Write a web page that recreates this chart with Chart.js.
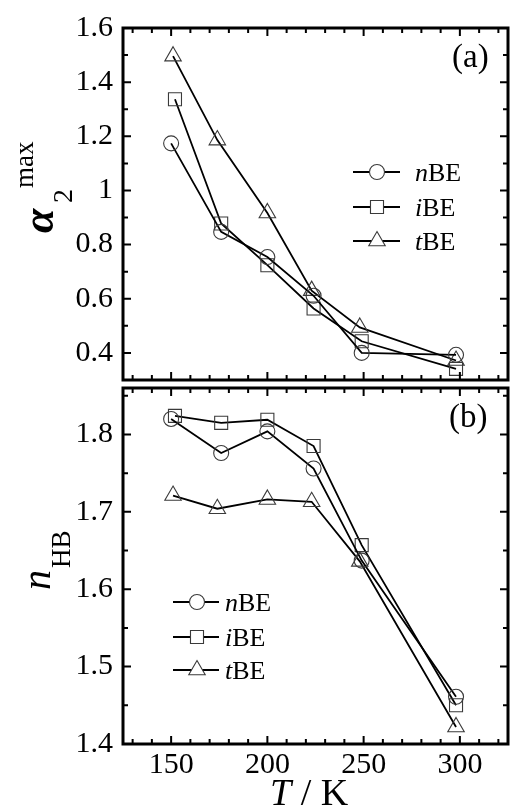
<!DOCTYPE html>
<html>
<head>
<meta charset="utf-8">
<script src="https://cdn.jsdelivr.net/npm/chart.js@4.4.1/dist/chart.umd.min.js"></script>
<style>
  html, body { margin: 0; padding: 0; background: #fff; }
  #wrap { position: relative; width: 513px; height: 807px; overflow: hidden; }
  canvas { position: absolute; left: 0; }
  #cA { top: 0; }
  #cB { top: 384px; }
</style>
</head>
<body>
<div id="wrap">
  <canvas id="cA" width="513" height="384"></canvas>
  <canvas id="cB" width="513" height="423"></canvas>
</div>
<script>
// temperatures (K) as placed in the figure, small offsets per series
const tempN = [150, 176, 200, 224, 249, 298];
const tempI = [152, 176, 200, 224, 249, 298];
const tempT = [151, 174, 200, 223, 248, 298];

// panel (a): alpha2 max
const alphaN = [1.174, 0.847, 0.754, 0.611, 0.400, 0.393];
const alphaI = [1.337, 0.878, 0.724, 0.564, 0.443, 0.341];
const alphaT = [1.496, 1.186, 0.917, 0.630, 0.494, 0.372];

// panel (b): n_HB
const nhbN = [1.820, 1.776, 1.804, 1.756, 1.637, 1.461];
const nhbI = [1.824, 1.815, 1.819, 1.785, 1.657, 1.450];
const nhbT = [1.721, 1.704, 1.716, 1.713, 1.636, 1.422];

const prefixes = ['n', 'i', 't'];
const markers = ['circle', 'rect', 'triangle'];
const xTicks = [150, 200, 250, 300];
const yTicksA = [0.4, 0.6, 0.8, 1.0, 1.2, 1.4, 1.6];
const yTicksB = [1.4, 1.5, 1.6, 1.7, 1.8];

const SERIF = '"Liberation Serif", "Times New Roman", serif';
const radii = { circle: 7.5, rect: 9.2, triangle: 9.5 };

function pts(xs, ys) {
    return xs.map((x, i) => ({ x: x, y: ys[i] }));
}

function makeSets(a, b, c) {
    return [pts(tempN, a), pts(tempI, b), pts(tempT, c)].map((d, i) => ({
        label: prefixes[i] + 'BE',
        data: d,
        borderColor: '#000',
        borderWidth: 1.8,
        pointStyle: markers[i],
        pointRadius: radii[markers[i]],
        pointBorderColor: '#3a3a3a',
        pointBorderWidth: 1.1,
        pointBackgroundColor: 'rgba(0,0,0,0)',
        tension: 0,
        clip: false
    }));
}

// frame, inward ticks, legend, labels
function framePlugin(cfg) {
    return {
        id: 'frame',
        afterDatasetsDraw(chart) {
            const { ctx, chartArea: a, scales: { x, y } } = chart;
            ctx.save();
            ctx.strokeStyle = '#000';
            ctx.lineWidth = 2;
            ctx.beginPath();
            for (let v = 130; v <= 320; v += 10) {
                const px = x.getPixelForValue(v);
                const len = v % 50 === 0 ? 8 : 5;
                ctx.moveTo(px, a.top); ctx.lineTo(px, a.top + len);
                ctx.moveTo(px, a.bottom); ctx.lineTo(px, a.bottom - len);
            }
            for (let k = cfg.kFrom; k <= cfg.kTo; k++) {
                const v = k / cfg.kDiv;
                const py = y.getPixelForValue(v);
                const len = cfg.isMajor(k) ? 8 : 5;
                ctx.moveTo(a.left, py); ctx.lineTo(a.left + len, py);
                ctx.moveTo(a.right, py); ctx.lineTo(a.right - len, py);
            }
            ctx.stroke();
            ctx.lineWidth = 3;
            ctx.strokeRect(a.left, a.top, a.right - a.left, a.bottom - a.top);

            // panel tag
            ctx.fillStyle = '#000';
            ctx.textBaseline = 'alphabetic';
            ctx.font = '33px ' + SERIF;
            ctx.fillText(cfg.tag, cfg.tagX, cfg.tagY);

            // legend
            const lg = cfg.legend;
            chart.data.datasets.forEach((ds, i) => {
                const ry = lg.rows[i];
                ctx.strokeStyle = '#000';
                ctx.lineWidth = 1.8;
                ctx.beginPath();
                ctx.moveTo(lg.x0, ry); ctx.lineTo(lg.x1, ry);
                ctx.stroke();
                ctx.fillStyle = '#fff';
                ctx.strokeStyle = '#3a3a3a';
                ctx.lineWidth = 1.1;
                Chart.helpers.drawPoint(ctx, {
                    pointStyle: ds.pointStyle, radius: ds.pointRadius,
                    rotation: 0, borderWidth: 1.1
                }, lg.xm, ry);
                ctx.fillStyle = '#000';
                ctx.font = 'italic 26px ' + SERIF;
                ctx.fillText(prefixes[i], lg.xt, ry + 8.5);
                const w = ctx.measureText(prefixes[i]).width;
                ctx.font = '26px ' + SERIF;
                ctx.fillText('BE', lg.xt + w, ry + 8.5);
            });

            cfg.extra(ctx);
            ctx.restore();
        }
    };
}

function yScale(min, max, ticks) {
    return {
        type: 'linear', min: min, max: max,
        afterBuildTicks: s => { s.ticks = ticks.map(v => ({ value: v })); },
        afterFit: s => { s.width = 123; s.paddingTop = 0; s.paddingBottom = 0; },
        grid: { display: false, drawTicks: false },
        border: { display: false },
        ticks: {
            color: '#000', padding: 10, autoSkip: false,
            font: { family: SERIF, size: 30 },
            callback: v => String(Number(v.toFixed(1)))
        }
    };
}

const chartA = new Chart(document.getElementById('cA'), {
    type: 'line',
    data: { datasets: makeSets(alphaN, alphaI, alphaT) },
    options: {
        responsive: false, animation: false,
        layout: { autoPadding: false, padding: { top: 28, right: 5, bottom: 4, left: 0 } },
        plugins: { legend: { display: false }, tooltip: { enabled: false } },
        scales: {
            x: { type: 'linear', min: 125, max: 325, display: false },
            y: yScale(0.3, 1.6, yTicksA)
        }
    },
    plugins: [framePlugin({
        kFrom: 3, kTo: 16, kDiv: 10, isMajor: k => k % 2 === 0,
        tag: '(a)', tagX: 452, tagY: 67,
        legend: { rows: [172, 207, 241], x0: 353, x1: 400, xm: 377, xt: 415 },
        extra(ctx) {
            ctx.save();
            ctx.translate(53, 233);
            ctx.rotate(-Math.PI / 2);
            ctx.fillStyle = '#000';
            ctx.font = 'bold italic 44px ' + SERIF;
            ctx.fillText('\u03B1', 0, 0);
            ctx.font = '28px ' + SERIF;
            ctx.fillText('2', 30, 19);
            ctx.font = '27px ' + SERIF;
            ctx.fillText('max', 45, -20);
            ctx.restore();
        }
    })]
});

const chartB = new Chart(document.getElementById('cB'), {
    type: 'line',
    data: { datasets: makeSets(nhbN, nhbI, nhbT) },
    options: {
        responsive: false, animation: false,
        layout: { autoPadding: false, padding: { top: 4, right: 5, bottom: 0, left: 0 } },
        plugins: { legend: { display: false }, tooltip: { enabled: false } },
        scales: {
            x: {
                type: 'linear', min: 125, max: 325,
                afterBuildTicks: s => { s.ticks = xTicks.map(v => ({ value: v })); },
                afterFit: s => { s.height = 63; s.paddingLeft = 0; s.paddingRight = 0; },
                grid: { display: false, drawTicks: false },
                border: { display: false },
                ticks: {
                    color: '#000', padding: 3, maxRotation: 0, autoSkip: false,
                    font: { family: SERIF, size: 30 }
                }
            },
            y: yScale(1.4, 1.86, yTicksB)
        }
    },
    plugins: [framePlugin({
        kFrom: 28, kTo: 37, kDiv: 20, isMajor: k => k % 2 === 0,
        tag: '(b)', tagX: 449, tagY: 43,
        legend: { rows: [218, 253, 286], x0: 173, x1: 219, xm: 197, xt: 225 },
        extra(ctx) {
            ctx.save();
            ctx.translate(50, 206);
            ctx.rotate(-Math.PI / 2);
            ctx.fillStyle = '#000';
            ctx.font = 'italic 40px ' + SERIF;
            ctx.fillText('n', 0, 0);
            ctx.font = '27px ' + SERIF;
            ctx.fillText('HB', 22, 20);
            ctx.restore();
            // x axis title
            ctx.fillStyle = '#000';
            ctx.font = 'italic 38px ' + SERIF;
            ctx.fillText('T', 270, 421);
            const w = ctx.measureText('T').width;
            ctx.font = '38px ' + SERIF;
            ctx.fillText(' / K', 270 + w, 421);
        }
    })]
});
</script>
</body>
</html>
